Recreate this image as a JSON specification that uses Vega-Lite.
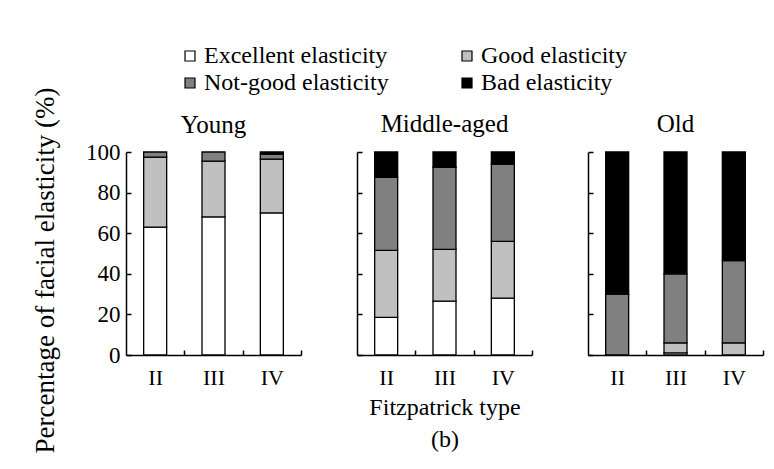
{
  "$schema": "https://vega.github.io/schema/vega-lite/v6.json",
  "background": "white",
  "padding": {"left": 30, "top": 44, "right": 5, "bottom": 5},
  "spacing": 54,
  "bounds": "full",
  "config": {
    "font": "Liberation Serif",
    "view": {"stroke": null},
    "axis": {
      "labelFont": "Liberation Serif",
      "titleFont": "Liberation Serif",
      "domainColor": "black",
      "tickColor": "black",
      "labelColor": "black",
      "titleColor": "black",
      "titleFontWeight": "normal",
      "domainWidth": 1.5,
      "tickWidth": 1.5,
      "grid": false
    },
    "legend": {"labelFont": "Liberation Serif", "labelColor": "black"},
    "title": {"font": "Liberation Serif", "fontSize": 25, "fontWeight": "normal", "color": "black", "offset": 14, "frame": "group"}
  },
  "datasets": {
    "d": [
      {"age": "Young", "type": "II", "category": "Excellent elasticity", "ord": 1, "value": 63},
      {"age": "Young", "type": "II", "category": "Good elasticity", "ord": 2, "value": 34.5},
      {"age": "Young", "type": "II", "category": "Not-good elasticity", "ord": 3, "value": 2.5},
      {"age": "Young", "type": "III", "category": "Excellent elasticity", "ord": 1, "value": 68},
      {"age": "Young", "type": "III", "category": "Good elasticity", "ord": 2, "value": 27.5},
      {"age": "Young", "type": "III", "category": "Not-good elasticity", "ord": 3, "value": 4.5},
      {"age": "Young", "type": "IV", "category": "Excellent elasticity", "ord": 1, "value": 70},
      {"age": "Young", "type": "IV", "category": "Good elasticity", "ord": 2, "value": 26.5},
      {"age": "Young", "type": "IV", "category": "Not-good elasticity", "ord": 3, "value": 2.5},
      {"age": "Young", "type": "IV", "category": "Bad elasticity", "ord": 4, "value": 1},
      {"age": "Middle-aged", "type": "II", "category": "Excellent elasticity", "ord": 1, "value": 18.5},
      {"age": "Middle-aged", "type": "II", "category": "Good elasticity", "ord": 2, "value": 33},
      {"age": "Middle-aged", "type": "II", "category": "Not-good elasticity", "ord": 3, "value": 36},
      {"age": "Middle-aged", "type": "II", "category": "Bad elasticity", "ord": 4, "value": 12.5},
      {"age": "Middle-aged", "type": "III", "category": "Excellent elasticity", "ord": 1, "value": 26.5},
      {"age": "Middle-aged", "type": "III", "category": "Good elasticity", "ord": 2, "value": 25.5},
      {"age": "Middle-aged", "type": "III", "category": "Not-good elasticity", "ord": 3, "value": 40.5},
      {"age": "Middle-aged", "type": "III", "category": "Bad elasticity", "ord": 4, "value": 7.5},
      {"age": "Middle-aged", "type": "IV", "category": "Excellent elasticity", "ord": 1, "value": 28},
      {"age": "Middle-aged", "type": "IV", "category": "Good elasticity", "ord": 2, "value": 28},
      {"age": "Middle-aged", "type": "IV", "category": "Not-good elasticity", "ord": 3, "value": 38},
      {"age": "Middle-aged", "type": "IV", "category": "Bad elasticity", "ord": 4, "value": 6},
      {"age": "Old", "type": "II", "category": "Not-good elasticity", "ord": 3, "value": 30},
      {"age": "Old", "type": "II", "category": "Bad elasticity", "ord": 4, "value": 70},
      {"age": "Old", "type": "III", "category": "Excellent elasticity", "ord": 1, "value": 1},
      {"age": "Old", "type": "III", "category": "Good elasticity", "ord": 2, "value": 5},
      {"age": "Old", "type": "III", "category": "Not-good elasticity", "ord": 3, "value": 34},
      {"age": "Old", "type": "III", "category": "Bad elasticity", "ord": 4, "value": 60},
      {"age": "Old", "type": "IV", "category": "Good elasticity", "ord": 2, "value": 6},
      {"age": "Old", "type": "IV", "category": "Not-good elasticity", "ord": 3, "value": 40.5},
      {"age": "Old", "type": "IV", "category": "Bad elasticity", "ord": 4, "value": 53.5}
    ]
  },
  "hconcat": [
    {
      "width": 175,
      "height": 203,
      "data": {"name": "d"},
      "transform": [{"filter": "datum.age === 'Young'"}],
      "title": {"text": "Young", "font": "Liberation Serif", "fontSize": 25, "fontWeight": "normal", "offset": -51, "frame": "group"},
      "mark": {"type": "bar", "stroke": "black", "strokeWidth": 1.3, "width": 23},
      "encoding": {
        "x": {"field": "type", "type": "nominal", "sort": ["II", "III", "IV"],
          "scale": {"paddingInner": 0.6, "paddingOuter": 0.3},
          "axis": {"title": null, "labelAngle": 0, "labelFontSize": 22, "tickOffset": 29, "labelOffset": -29, "tickSize": -5, "labelPadding": 17}},
        "y": {"field": "value", "type": "quantitative", "stack": "zero",
          "scale": {"domain": [0, 100]},
          "axis": {"values": [0, 20, 40, 60, 80, 100], "labelFontSize": 23, "tickSize": -5, "labelPadding": 11,
            "title": "Percentage of facial elasticity (%)", "titleFontSize": 27, "titleY": 118, "titleX": -67}},
        "color": {"field": "category", "type": "nominal",
          "scale": {"domain": ["Excellent elasticity", "Good elasticity", "Not-good elasticity", "Bad elasticity"], "range": ["#ffffff", "#c0c0c0", "#808080", "#000000"]},
          "legend": {"title": null, "orient": "none", "legendX": 52, "legendY": -108, "columns": 2, "columnPadding": 66, "rowPadding": 3,
            "symbolType": "square", "symbolSize": 100, "symbolStrokeColor": "black", "symbolStrokeWidth": 1.2,
            "labelFont": "Liberation Serif", "labelFontSize": 24, "labelColor": "black", "labelOffset": 2, "labelLimit": 0,
            "values": ["Excellent elasticity", "Not-good elasticity", "Good elasticity", "Bad elasticity"]}},
        "order": {"field": "ord"}
      }
    },
    {
      "width": 175,
      "height": 203,
      "data": {"name": "d"},
      "transform": [{"filter": "datum.age === 'Middle-aged'"}],
      "title": {"text": "Middle-aged", "font": "Liberation Serif", "fontSize": 25, "fontWeight": "normal", "offset": 14, "frame": "group"},
      "mark": {"type": "bar", "stroke": "black", "strokeWidth": 1.3, "width": 23},
      "encoding": {
        "x": {"field": "type", "type": "nominal", "sort": ["II", "III", "IV"],
          "scale": {"paddingInner": 0.6, "paddingOuter": 0.3},
          "axis": {"title": ["Fitzpatrick type", "(b)"], "titleFontSize": 24, "titleLineHeight": 32, "titlePadding": 7, "labelAngle": 0, "labelFontSize": 22, "tickOffset": 29, "labelOffset": -29, "tickSize": -5, "labelPadding": 17}},
        "y": {"field": "value", "type": "quantitative", "stack": "zero",
          "scale": {"domain": [0, 100]},
          "axis": {"values": [0, 20, 40, 60, 80, 100], "labels": false, "tickSize": -5, "title": null}},
        "color": {"field": "category", "type": "nominal",
          "scale": {"domain": ["Excellent elasticity", "Good elasticity", "Not-good elasticity", "Bad elasticity"], "range": ["#ffffff", "#c0c0c0", "#808080", "#000000"]}},
        "order": {"field": "ord"}
      }
    },
    {
      "width": 175,
      "height": 203,
      "data": {"name": "d"},
      "transform": [{"filter": "datum.age === 'Old'"}],
      "title": {"text": "Old", "font": "Liberation Serif", "fontSize": 25, "fontWeight": "normal", "offset": 14, "frame": "group"},
      "mark": {"type": "bar", "stroke": "black", "strokeWidth": 1.3, "width": 23},
      "encoding": {
        "x": {"field": "type", "type": "nominal", "sort": ["II", "III", "IV"],
          "scale": {"paddingInner": 0.6, "paddingOuter": 0.3},
          "axis": {"title": null, "labelAngle": 0, "labelFontSize": 22, "tickOffset": 29, "labelOffset": -29, "tickSize": -5, "labelPadding": 17}},
        "y": {"field": "value", "type": "quantitative", "stack": "zero",
          "scale": {"domain": [0, 100]},
          "axis": {"values": [0, 20, 40, 60, 80, 100], "labels": false, "tickSize": -5, "title": null}},
        "color": {"field": "category", "type": "nominal",
          "scale": {"domain": ["Excellent elasticity", "Good elasticity", "Not-good elasticity", "Bad elasticity"], "range": ["#ffffff", "#c0c0c0", "#808080", "#000000"]}},
        "order": {"field": "ord"}
      }
    }
  ],
  "resolve": {"scale": {"color": "shared"}}
}
